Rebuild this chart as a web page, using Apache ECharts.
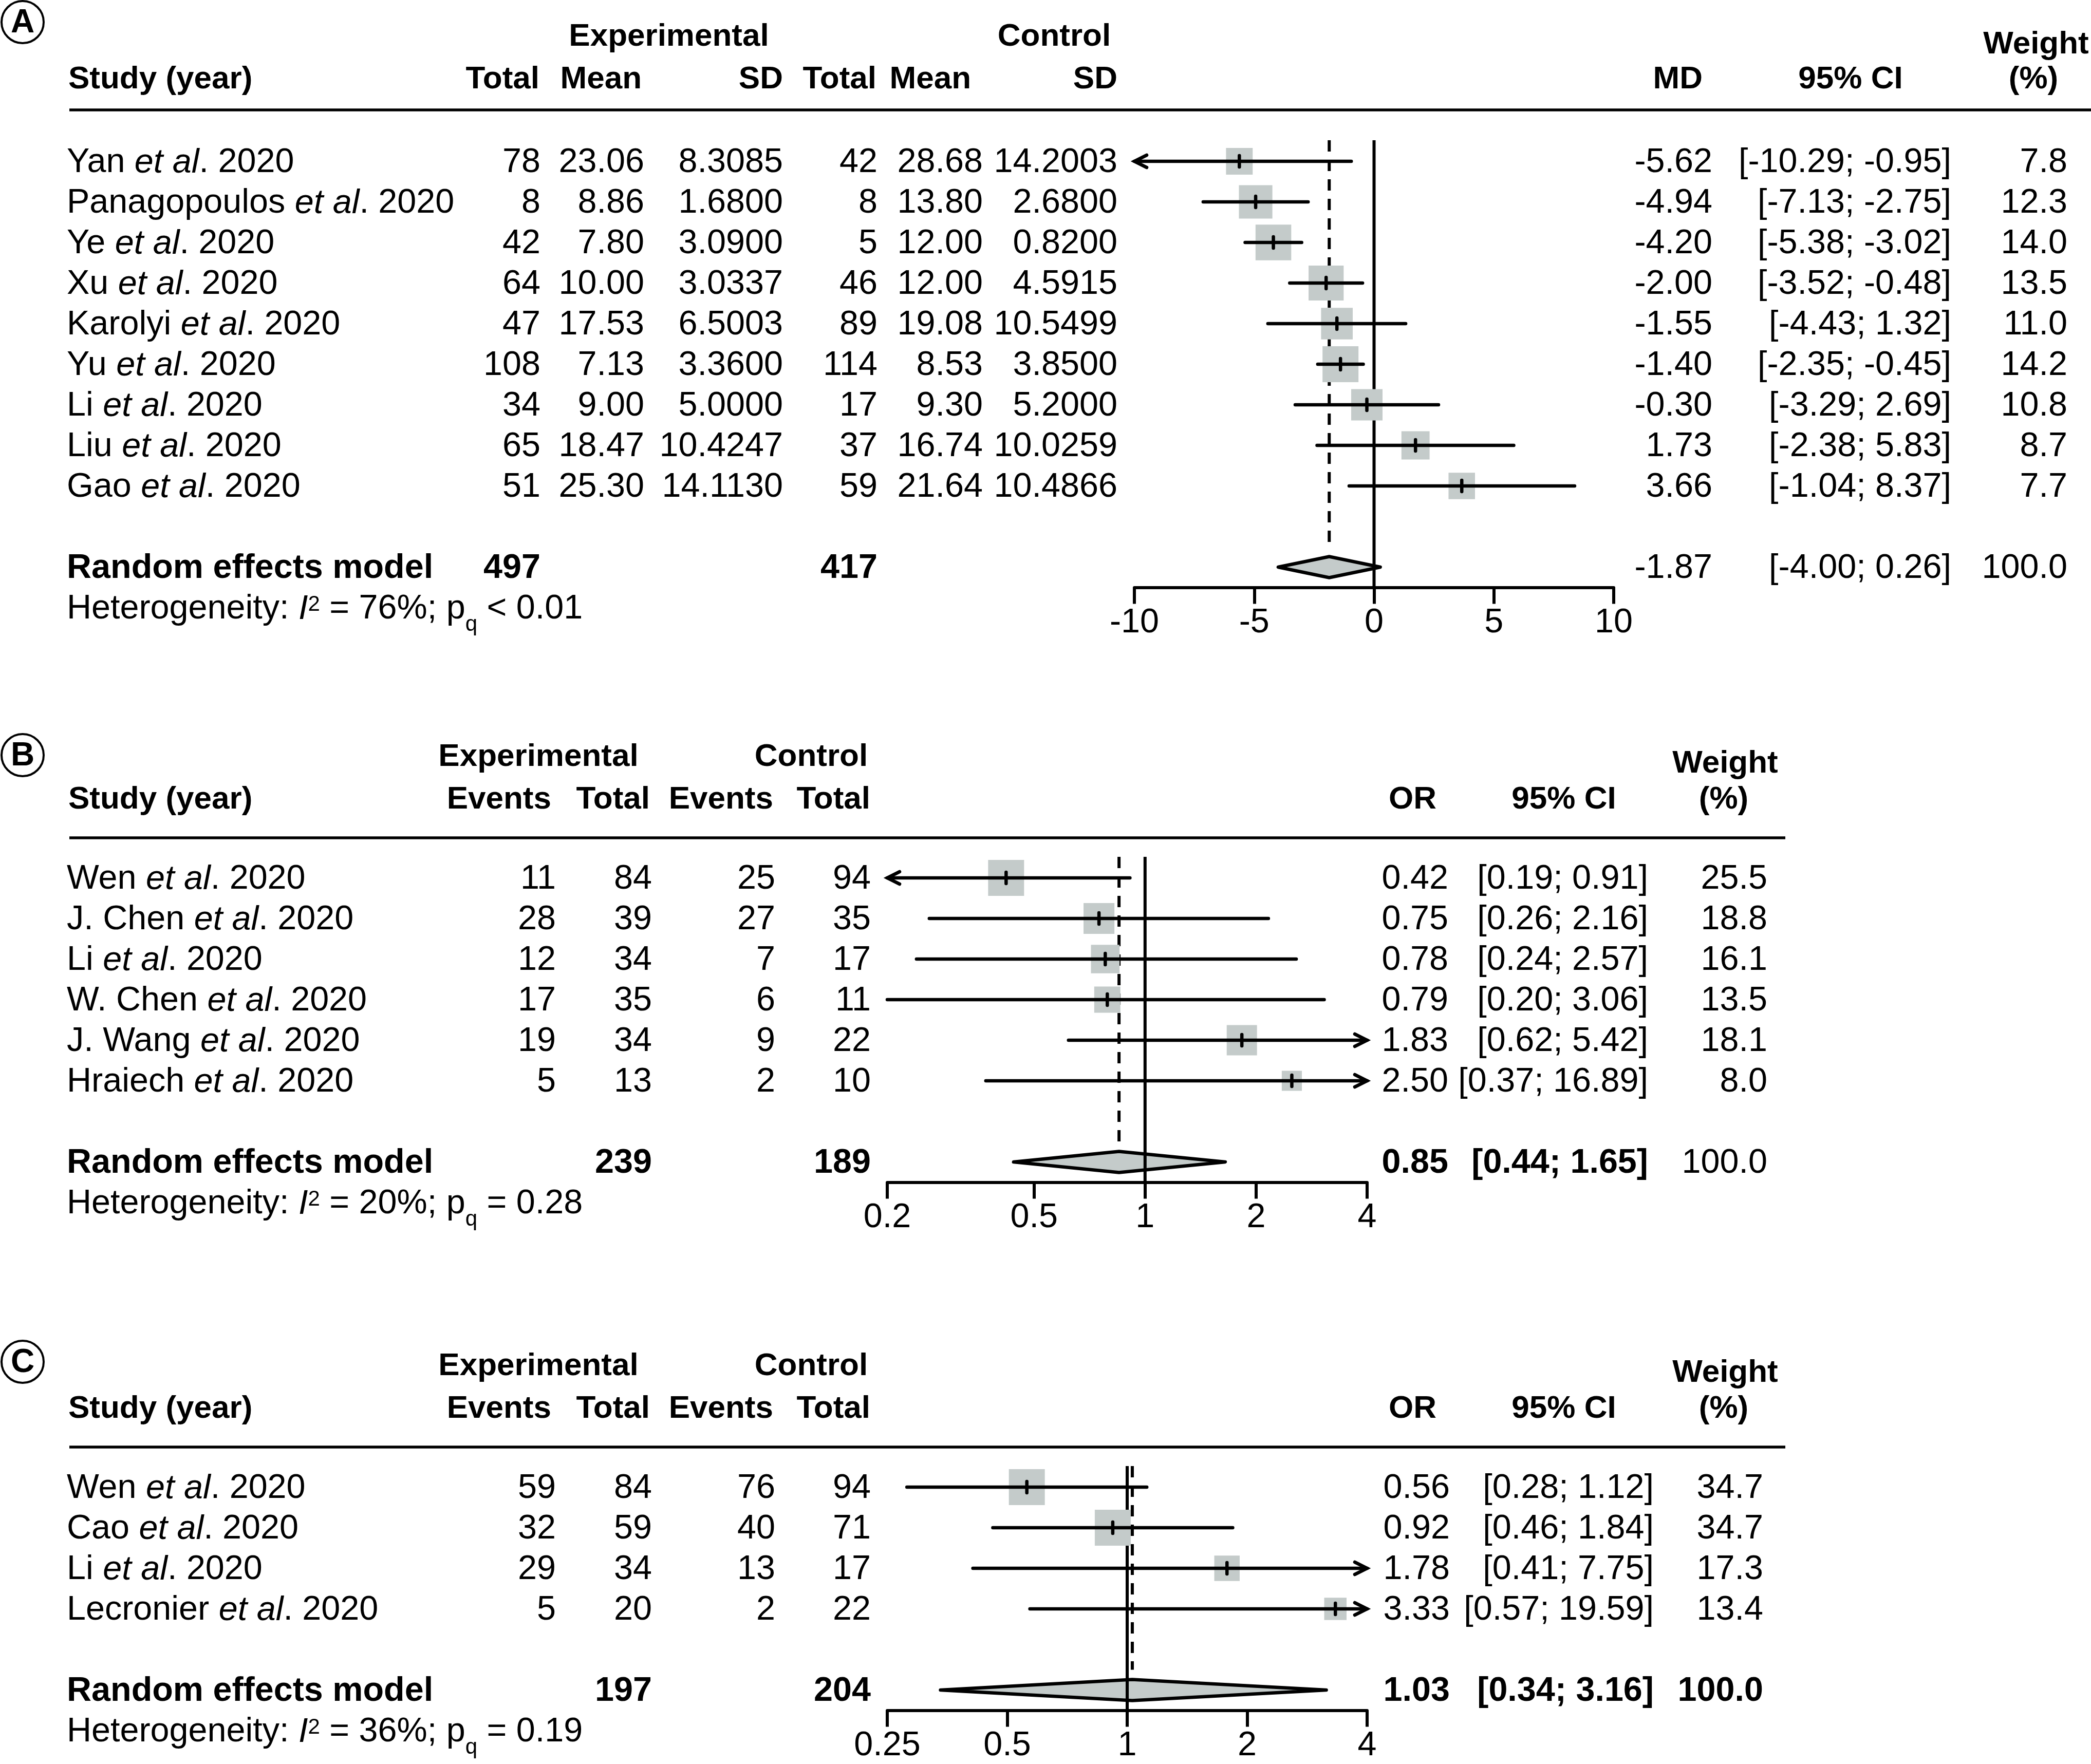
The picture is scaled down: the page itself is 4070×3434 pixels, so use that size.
<!DOCTYPE html>
<html>
<head>
<meta charset="utf-8">
<title>Forest plots A, B, C</title>
<script src="https://cdn.jsdelivr.net/npm/echarts@6/dist/echarts.min.js"></script>
<style>
html, body { margin: 0; padding: 0; background: #ffffff; }
#chart { width: 4070px; height: 3434px; }
</style>
</head>
<body>
<div id="chart"></div>
<script>
/* ================= DATA ================= */
/* ---- Panel A : mean difference ---- */
const A_AUTHORS  = ['Yan', 'Panagopoulos', 'Ye', 'Xu', 'Karolyi', 'Yu', 'Li', 'Liu', 'Gao'];
const A_YEARS    = [2020, 2020, 2020, 2020, 2020, 2020, 2020, 2020, 2020];
const A_EXP_N    = [78, 8, 42, 64, 47, 108, 34, 65, 51];
const A_EXP_MEAN = [23.06, 8.86, 7.80, 10.00, 17.53, 7.13, 9.00, 18.47, 25.30];
const A_EXP_SD   = [8.3085, 1.6800, 3.0900, 3.0337, 6.5003, 3.3600, 5.0000, 10.4247, 14.1130];
const A_CTL_N    = [42, 8, 5, 46, 89, 114, 17, 37, 59];
const A_CTL_MEAN = [28.68, 13.80, 12.00, 12.00, 19.08, 8.53, 9.30, 16.74, 21.64];
const A_CTL_SD   = [14.2003, 2.6800, 0.8200, 4.5915, 10.5499, 3.8500, 5.2000, 10.0259, 10.4866];
const A_MD       = [-5.62, -4.94, -4.20, -2.00, -1.55, -1.40, -0.30, 1.73, 3.66];
const A_LO       = [-10.29, -7.13, -5.38, -3.52, -4.43, -2.35, -3.29, -2.38, -1.04];
const A_HI       = [-0.95, -2.75, -3.02, -0.48, 1.32, -0.45, 2.69, 5.83, 8.37];
const A_W        = [7.8, 12.3, 14.0, 13.5, 11.0, 14.2, 10.8, 8.7, 7.7];
const A_RE       = [-1.87, -4.00, 0.26];     // estimate, lower, upper
const A_RE_N     = [497, 417];
const A_RE_W     = [100.0];
const A_HET      = ['76%', '< 0.01'];
const A_TICKS    = [-10, -5, 0, 5, 10];
const A_NULL     = [0];

/* ---- Panel B : odds ratio ---- */
const B_AUTHORS  = ['Wen', 'J. Chen', 'Li', 'W. Chen', 'J. Wang', 'Hraiech'];
const B_YEARS    = [2020, 2020, 2020, 2020, 2020, 2020];
const B_EXP_EV   = [11, 28, 12, 17, 19, 5];
const B_EXP_N    = [84, 39, 34, 35, 34, 13];
const B_CTL_EV   = [25, 27, 7, 6, 9, 2];
const B_CTL_N    = [94, 35, 17, 11, 22, 10];
const B_OR       = [0.42, 0.75, 0.78, 0.79, 1.83, 2.50];
const B_LO       = [0.19, 0.26, 0.24, 0.20, 0.62, 0.37];
const B_HI       = [0.91, 2.16, 2.57, 3.06, 5.42, 16.89];
const B_W        = [25.5, 18.8, 16.1, 13.5, 18.1, 8.0];
const B_RE       = [0.85, 0.44, 1.65];
const B_RE_N     = [239, 189];
const B_RE_W     = [100.0];
const B_HET      = ['20%', '= 0.28'];
const B_TICKS    = [0.2, 0.5, 1, 2, 4];
const B_NULL     = [1];

/* ---- Panel C : odds ratio ---- */
const C_AUTHORS  = ['Wen', 'Cao', 'Li', 'Lecronier'];
const C_YEARS    = [2020, 2020, 2020, 2020];
const C_EXP_EV   = [59, 32, 29, 5];
const C_EXP_N    = [84, 59, 34, 20];
const C_CTL_EV   = [76, 40, 13, 2];
const C_CTL_N    = [94, 71, 17, 22];
const C_OR       = [0.56, 0.92, 1.78, 3.33];
const C_LO       = [0.28, 0.46, 0.41, 0.57];
const C_HI       = [1.12, 1.84, 7.75, 19.59];
const C_W        = [34.7, 34.7, 17.3, 13.4];
const C_RE       = [1.03, 0.34, 3.16];
const C_RE_N     = [197, 204];
const C_RE_W     = [100.0];
const C_HET      = ['36%', '= 0.19'];
const C_TICKS    = [0.25, 0.5, 1, 2, 4];
const C_NULL     = [1];

/* ================= STYLE / LAYOUT ================= */
const FONT = '"Liberation Sans", Arial, Helvetica, sans-serif';
const FS = 66.5;    // body text
const FSH = 62;     // column headings
const INK = '#000000';
const BOX = '#c4cbca';
const LW = 6.5;
const W_PX = 4070;
const ROW_PX = 79;
const ROW_TOP = -0.52;
const TEXT_DY = 3;

const RICH = {
  n:   { fontSize: FS, fontFamily: FONT, fill: INK },
  i:   { fontSize: FS, fontFamily: FONT, fontStyle: 'italic', fill: INK },
  sup: { fontSize: 42, fontFamily: FONT, fill: INK, padding: [0, 0, 18, 0] },
  sub: { fontSize: 42, fontFamily: FONT, fill: INK, padding: [60, 0, 0, 0] }
};

const LAYOUT = {
  A: { row0: 314,  reRow: 10, xl: 2208, xr: 3141, dy: 5, tagY: 43 },
  B: { row0: 1709, reRow: 7,  xl: 1727, xr: 2661, dy: 4, tagY: 1470 },
  C: { row0: 2895, reRow: 5,  xl: 1727, xr: 2661, dy: 6, tagY: 2651 }
};

const COLS_A = { study: 130, expN: 1052, expMean: 1254, expSD: 1524, ctlN: 1708, ctlMean: 1913, ctlSD: 2175, est: 3333, ci: 3798, w: 4024 };
const COLS_B = { study: 130, expEv: 1082, expN: 1269, ctlEv: 1509, ctlN: 1695, est: 2819, ci: 3208, w: 3440 };
const COLS_C = { study: 130, expEv: 1082, expN: 1269, ctlEv: 1509, ctlN: 1695, est: 2822, ci: 3219, w: 3432 };

/* ================= HELPERS ================= */
const ident = v => v;
const log10 = v => Math.log10(v);
const f2 = v => v.toFixed(2);
const ciText = (lo, hi) => '[' + lo.toFixed(2) + '; ' + hi.toFixed(2) + ']';
const studyLabel = (a, y) => '{n|' + a + ' }{i|et al}{n|. ' + y + '}';
const hetLabel = h => '{n|Heterogeneity: }{i|I}{sup|2}{n| = ' + h[0] + '; p}{sub|q}{n| ' + h[1] + '}';

function textStyle(text, opt) {
  opt = opt || {};
  const align = opt.align || 'right';
  const st = {
    text: text, fill: INK, fontSize: opt.size || FS, fontFamily: FONT,
    fontWeight: opt.bold ? 'bold' : 'normal',
    align: align, verticalAlign: 'middle', textAlign: align, textVerticalAlign: 'middle'
  };
  if (opt.rich) st.rich = RICH;
  return st;
}

const grids = [], xAxes = [], yAxes = [], series = [], graphics = [];

function addPanel(L, xSpec) {
  const top = L.row0 + ROW_TOP * ROW_PX;
  const fMax = L.reRow + 0.5, tMax = L.reRow + 1.5;
  const gi = grids.length;
  grids.push({ left: L.xl, width: L.xr - L.xl, top: top, height: (fMax - ROW_TOP) * ROW_PX, containLabel: false, outerBoundsMode: 'none' });
  xAxes.push(Object.assign({ gridIndex: gi }, xSpec));
  yAxes.push({ gridIndex: gi, type: 'value', inverse: true, min: ROW_TOP, max: fMax, show: false, splitLine: { show: false } });
  grids.push({ left: 0, width: W_PX, top: top, height: (tMax - ROW_TOP) * ROW_PX, containLabel: false, outerBoundsMode: 'none' });
  xAxes.push({ gridIndex: gi + 1, type: 'value', min: 0, max: W_PX, show: false, splitLine: { show: false } });
  yAxes.push({ gridIndex: gi + 1, type: 'value', inverse: true, min: ROW_TOP, max: tMax, show: false, splitLine: { show: false } });
  return gi;
}

function forestAxis(ticks, tf, interval) {
  const spec = {
    type: 'value', position: 'bottom',
    min: tf(ticks[0]), max: tf(ticks[ticks.length - 1]),
    axisLine: { show: true, onZero: false, lineStyle: { color: INK, width: 6 } },
    axisTick: { show: true, inside: false, length: 32, lineStyle: { color: INK, width: 6 } },
    axisLabel: { show: true, color: INK, fontSize: FS, fontFamily: FONT, margin: 36 },
    splitLine: { show: false }
  };
  if (interval) {
    spec.interval = interval;
  } else {
    const tv = ticks.map(tf);
    spec.axisTick.customValues = tv;
    spec.axisLabel.customValues = tv;
    spec.axisLabel.formatter = function (v) {
      for (let k = 0; k < ticks.length; k++) if (Math.abs(tf(ticks[k]) - v) < 1e-6) return String(ticks[k]);
      return '';
    };
  }
  return spec;
}

function studySeries(gi, est, lo, hi, w, tf) {
  const wMax = Math.max.apply(null, w);
  return {
    type: 'custom', xAxisIndex: gi, yAxisIndex: gi, z: 5, silent: true, clip: false, animation: false,
    data: est.map((e, i) => [tf(e), tf(lo[i]), tf(hi[i]), w[i], i]),
    renderItem: function (params, api) {
      const cs = params.coordSys;
      const row = api.value(4);
      const pe = api.coord([api.value(0), row]);
      const xl0 = api.coord([api.value(1), row])[0];
      const xh0 = api.coord([api.value(2), row])[0];
      const xL = Math.max(xl0, cs.x), xR = Math.min(xh0, cs.x + cs.width);
      const rowPx = Math.abs(api.size([0, 1])[1]);
      const side = 0.886 * rowPx * Math.sqrt(api.value(3) / wMax);
      const y = pe[1];
      const ch = [
        { type: 'rect', shape: { x: pe[0] - side / 2, y: y - side / 2, width: side, height: side }, style: { fill: BOX } },
        { type: 'line', shape: { x1: xL, y1: y, x2: xR, y2: y }, style: { stroke: INK, lineWidth: LW, lineCap: 'round' } },
        { type: 'line', shape: { x1: pe[0], y1: y - 11, x2: pe[0], y2: y + 11 }, style: { stroke: INK, lineWidth: LW, lineCap: 'round' } }
      ];
      const AL = 24, AH = 12;
      if (xl0 < cs.x - 0.5) {
        ch.push({ type: 'polyline', shape: { points: [[cs.x + AL, y - AH], [cs.x, y], [cs.x + AL, y + AH]] },
                  style: { stroke: INK, fill: null, lineWidth: LW, lineCap: 'round', lineJoin: 'miter' } });
      }
      if (xh0 > cs.x + cs.width + 0.5) {
        const xe = cs.x + cs.width;
        ch.push({ type: 'polyline', shape: { points: [[xe - AL, y - AH], [xe, y], [xe - AL, y + AH]] },
                  style: { stroke: INK, fill: null, lineWidth: LW, lineCap: 'round', lineJoin: 'miter' } });
      }
      return { type: 'group', children: ch };
    }
  };
}

function vLineSeries(gi, vals, tf, endRow, dashed, z) {
  return {
    type: 'custom', xAxisIndex: gi, yAxisIndex: gi, z: z, silent: true, clip: false, animation: false,
    data: vals.map(v => [tf(v)]),
    renderItem: function (params, api) {
      const v = api.value(0);
      const p1 = api.coord([v, ROW_TOP]);
      const p2 = api.coord([v, endRow]);
      return { type: 'line', shape: { x1: p1[0], y1: p1[1], x2: p2[0], y2: p2[1] },
               style: { stroke: INK, lineWidth: 6, lineDash: dashed ? [22, 16] : null } };
    }
  };
}

function diamondSeries(gi, re, tf, reRow) {
  return {
    type: 'custom', xAxisIndex: gi, yAxisIndex: gi, z: 2, silent: true, clip: false, animation: false,
    data: [[tf(re[0]), tf(re[1]), tf(re[2]), reRow]],
    renderItem: function (params, api) {
      const row = api.value(3);
      const c = api.coord([api.value(0), row]);
      const l = api.coord([api.value(1), row]);
      const r = api.coord([api.value(2), row]);
      const h = 0.26 * Math.abs(api.size([0, 1])[1]);
      return { type: 'polygon', shape: { points: [[l[0], c[1]], [c[0], c[1] - h], [r[0], c[1]], [c[0], c[1] + h]] },
               style: { fill: BOX, stroke: INK, lineWidth: LW, lineJoin: 'round' } };
    }
  };
}

function tableSeries(gi, cells) {
  return {
    type: 'custom', xAxisIndex: gi + 1, yAxisIndex: gi + 1, z: 6, silent: true, clip: false, animation: false,
    data: cells.map(c => [c.x, c.row]),
    renderItem: function (params, api) {
      const c = cells[params.dataIndex];
      const p = api.coord([api.value(0), api.value(1)]);
      return { type: 'text', x: p[0], y: p[1] + TEXT_DY, silent: true, style: textStyle(c.text, c) };
    }
  };
}

function headerText(x, y, text, align) {
  return { type: 'text', x: x, y: y, silent: true, style: textStyle(text, { align: align || 'right', bold: true, size: FSH }) };
}
function hRule(x1, x2, y) {
  return { type: 'line', silent: true, shape: { x1: x1, y1: y, x2: x2, y2: y }, style: { stroke: INK, lineWidth: 5.5 } };
}
function panelTag(letter, cx, cy) {
  graphics.push({ type: 'circle', silent: true, shape: { cx: cx, cy: cy, r: 41 }, style: { fill: '#ffffff', stroke: INK, lineWidth: 4 } });
  graphics.push({ type: 'text', x: cx, y: cy + 2, silent: true, style: textStyle(letter, { align: 'center', bold: true, size: 64 }) });
}

/* ================= PANEL A ================= */
(function () {
  const L = LAYOUT.A, K = COLS_A, d = L.dy;
  const gi = addPanel(L, forestAxis(A_TICKS, ident, 5));
  const cells = [];
  A_AUTHORS.forEach((a, i) => {
    cells.push({ x: K.study, row: i, text: studyLabel(a, A_YEARS[i]), align: 'left', rich: true });
    cells.push({ x: K.expN, row: i, text: String(A_EXP_N[i]) });
    cells.push({ x: K.expMean, row: i, text: f2(A_EXP_MEAN[i]) });
    cells.push({ x: K.expSD, row: i, text: A_EXP_SD[i].toFixed(4) });
    cells.push({ x: K.ctlN, row: i, text: String(A_CTL_N[i]) });
    cells.push({ x: K.ctlMean, row: i, text: f2(A_CTL_MEAN[i]) });
    cells.push({ x: K.ctlSD, row: i, text: A_CTL_SD[i].toFixed(4) });
    cells.push({ x: K.est, row: i, text: f2(A_MD[i]) });
    cells.push({ x: K.ci, row: i, text: ciText(A_LO[i], A_HI[i]) });
    cells.push({ x: K.w, row: i, text: A_W[i].toFixed(1) });
  });
  const r = L.reRow;
  cells.push({ x: K.study, row: r, text: 'Random effects model', align: 'left', bold: true });
  cells.push({ x: K.expN, row: r, text: String(A_RE_N[0]), bold: true });
  cells.push({ x: K.ctlN, row: r, text: String(A_RE_N[1]), bold: true });
  cells.push({ x: K.est, row: r, text: f2(A_RE[0]) });
  cells.push({ x: K.ci, row: r, text: ciText(A_RE[1], A_RE[2]) });
  cells.push({ x: K.w, row: r, text: A_RE_W[0].toFixed(1) });
  cells.push({ x: K.study, row: r + 1, text: hetLabel(A_HET), align: 'left', rich: true });

  series.push(diamondSeries(gi, A_RE, ident, r));
  series.push(vLineSeries(gi, A_RE.slice(0, 1), ident, r - 0.5, true, 3));
  series.push(vLineSeries(gi, A_NULL, ident, r + 0.5, false, 4));
  series.push(studySeries(gi, A_MD, A_LO, A_HI, A_W, ident));
  series.push(tableSeries(gi, cells));

  const y1 = 67 + d, yW = 82 + d, y2 = 150 + d;
  graphics.push(headerText(1302, y1, 'Experimental', 'center'));
  graphics.push(headerText(2052, y1, 'Control', 'center'));
  graphics.push(headerText(3963, yW, 'Weight', 'center'));
  graphics.push(headerText(133, y2, 'Study (year)', 'left'));
  graphics.push(headerText(1050, y2, 'Total'));
  graphics.push(headerText(1249, y2, 'Mean'));
  graphics.push(headerText(1524, y2, 'SD'));
  graphics.push(headerText(1706, y2, 'Total'));
  graphics.push(headerText(1890, y2, 'Mean'));
  graphics.push(headerText(2175, y2, 'SD'));
  graphics.push(headerText(3314, y2, 'MD'));
  graphics.push(headerText(3602, y2, '95% CI', 'center'));
  graphics.push(headerText(3958, y2, '(%)', 'center'));
  graphics.push(hRule(135, 4070, 209 + d));
  panelTag('A', 44, L.tagY);
})();

/* ================= PANELS B & C ================= */
function binaryPanel(L, K, tag, hdr, authors, years, expEv, expN, ctlEv, ctlN, est, lo, hi, w, re, reN, reW, het, ticks, nullV, reBold) {
  const d = L.dy;
  const gi = addPanel(L, forestAxis(ticks, log10, null));
  const cells = [];
  authors.forEach((a, i) => {
    cells.push({ x: K.study, row: i, text: studyLabel(a, years[i]), align: 'left', rich: true });
    cells.push({ x: K.expEv, row: i, text: String(expEv[i]) });
    cells.push({ x: K.expN, row: i, text: String(expN[i]) });
    cells.push({ x: K.ctlEv, row: i, text: String(ctlEv[i]) });
    cells.push({ x: K.ctlN, row: i, text: String(ctlN[i]) });
    cells.push({ x: K.est, row: i, text: f2(est[i]) });
    cells.push({ x: K.ci, row: i, text: ciText(lo[i], hi[i]) });
    cells.push({ x: K.w, row: i, text: w[i].toFixed(1) });
  });
  const r = L.reRow;
  cells.push({ x: K.study, row: r, text: 'Random effects model', align: 'left', bold: true });
  cells.push({ x: K.expN, row: r, text: String(reN[0]), bold: true });
  cells.push({ x: K.ctlN, row: r, text: String(reN[1]), bold: true });
  cells.push({ x: K.est, row: r, text: f2(re[0]), bold: reBold[0] });
  cells.push({ x: K.ci, row: r, text: ciText(re[1], re[2]), bold: reBold[1] });
  cells.push({ x: K.w, row: r, text: reW[0].toFixed(1), bold: reBold[2] });
  cells.push({ x: K.study, row: r + 1, text: hetLabel(het), align: 'left', rich: true });

  series.push(diamondSeries(gi, re, log10, r));
  series.push(vLineSeries(gi, re.slice(0, 1), log10, r - 0.5, true, 3));
  series.push(vLineSeries(gi, nullV, log10, r + 0.5, false, 4));
  series.push(studySeries(gi, est, lo, hi, w, log10));
  series.push(tableSeries(gi, cells));

  graphics.push(headerText(1048, hdr.y1 + d, 'Experimental', 'center'));
  graphics.push(headerText(1579, hdr.y1 + d, 'Control', 'center'));
  graphics.push(headerText(3358, hdr.yW + d, 'Weight', 'center'));
  graphics.push(headerText(133, hdr.y2 + d, 'Study (year)', 'left'));
  graphics.push(headerText(1073, hdr.y2 + d, 'Events'));
  graphics.push(headerText(1265, hdr.y2 + d, 'Total'));
  graphics.push(headerText(1505, hdr.y2 + d, 'Events'));
  graphics.push(headerText(1694, hdr.y2 + d, 'Total'));
  graphics.push(headerText(2796, hdr.y2 + d, 'OR'));
  graphics.push(headerText(3044, hdr.y2 + d, '95% CI', 'center'));
  graphics.push(headerText(3355, hdr.y2 + d, '(%)', 'center'));
  graphics.push(hRule(135, 3475, hdr.line + d));
  panelTag(tag, 44, L.tagY);
}

binaryPanel(LAYOUT.B, COLS_B, 'B', { y1: 1470, yW: 1483, y2: 1553, line: 1627 },
  B_AUTHORS, B_YEARS, B_EXP_EV, B_EXP_N, B_CTL_EV, B_CTL_N, B_OR, B_LO, B_HI, B_W,
  B_RE, B_RE_N, B_RE_W, B_HET, B_TICKS, B_NULL, [true, true, false]);

binaryPanel(LAYOUT.C, COLS_C, 'C', { y1: 2654, yW: 2667, y2: 2737, line: 2811 },
  C_AUTHORS, C_YEARS, C_EXP_EV, C_EXP_N, C_CTL_EV, C_CTL_N, C_OR, C_LO, C_HI, C_W,
  C_RE, C_RE_N, C_RE_W, C_HET, C_TICKS, C_NULL, [true, true, true]);

/* ================= RENDER ================= */
const chart = echarts.init(document.getElementById('chart'), null, { renderer: 'canvas', width: 4070, height: 3434 });
chart.setOption({
  backgroundColor: '#ffffff',
  animation: false,
  grid: grids,
  xAxis: xAxes,
  yAxis: yAxes,
  series: series,
  graphic: { elements: graphics }
});
</script>
</body>
</html>
